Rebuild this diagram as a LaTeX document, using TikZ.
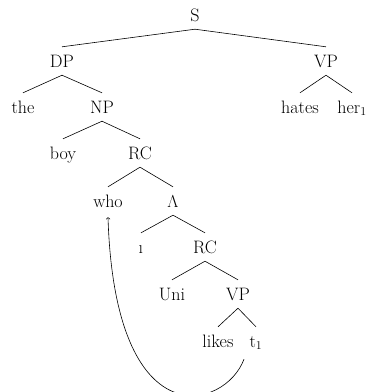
\documentclass[tikz,border=0pt]{standalone}
\usepackage{fontspec}
\begin{document}
\begin{tikzpicture}[x=1pt,y=-1pt,
  lab/.style={anchor=base,font=\fontsize{18}{20}\selectfont,text height=16pt,text depth=4pt,inner ysep=4pt,inner xsep=0pt},
  edge/.style={line width=0.6pt},
  mv/.style={line width=0.6pt,->}]
\useasboundingbox (0,0) rectangle (368,392);
% level 0
\node[lab] (S) at (195,21) {S};
% level 1
\node[lab] (DP) at (62,67) {DP};
\node[lab] (VP) at (326,67) {VP};
% level 2
\node[lab] (the) at (23,113) {the};
\node[lab] (NP) at (102,113) {NP};
\node[lab] (hates) at (300,113) {hates};
\node[lab] (her) at (352,113) {her$_1$};
% level 3
\node[lab] (boy) at (63,159) {boy};
\node[lab] (RC) at (140,159) {RC};
% level 4
\node[lab] (who) at (108,207) {who};
\node[lab] (lam) at (173,207) {$\Lambda$};
% level 5
\node[lab] (idx) at (141,253) {\i};
\node[lab] (RC2) at (205,253) {RC};
% level 6
\node[lab] (uni) at (172,300) {Uni};
\node[lab] (VP2) at (238,300) {VP};
% level 7
\node[lab] (likes) at (218,347) {likes};
\node[lab] (t) at (256,347) {t$_1$};
% edges
\draw[edge] (S.south) -- (DP.north);
\draw[edge] (S.south) -- (VP.north);
\draw[edge] (DP.south) -- (the.north);
\draw[edge] (DP.south) -- (NP.north);
\draw[edge] (VP.south) -- (hates.north);
\draw[edge] (VP.south) -- (her.north);
\draw[edge] (NP.south) -- (boy.north);
\draw[edge] (NP.south) -- (RC.north);
\draw[edge] (RC.south) -- (who.north);
\draw[edge] (RC.south) -- (lam.north);
\draw[edge] (lam.south) -- (idx.north);
\draw[edge] (lam.south) -- (RC2.north);
\draw[edge] (RC2.south) -- (uni.north);
\draw[edge] (RC2.south) -- (VP2.north);
\draw[edge] (VP2.south) -- (likes.north);
\draw[edge] (VP2.south) -- (t.north);
% movement arrow
\draw[mv] ([xshift=-12pt,yshift=-4pt]t.south) .. controls +(-19,51) and +(7,223) .. ([yshift=-2pt]who.south);
\end{tikzpicture}
\end{document}
